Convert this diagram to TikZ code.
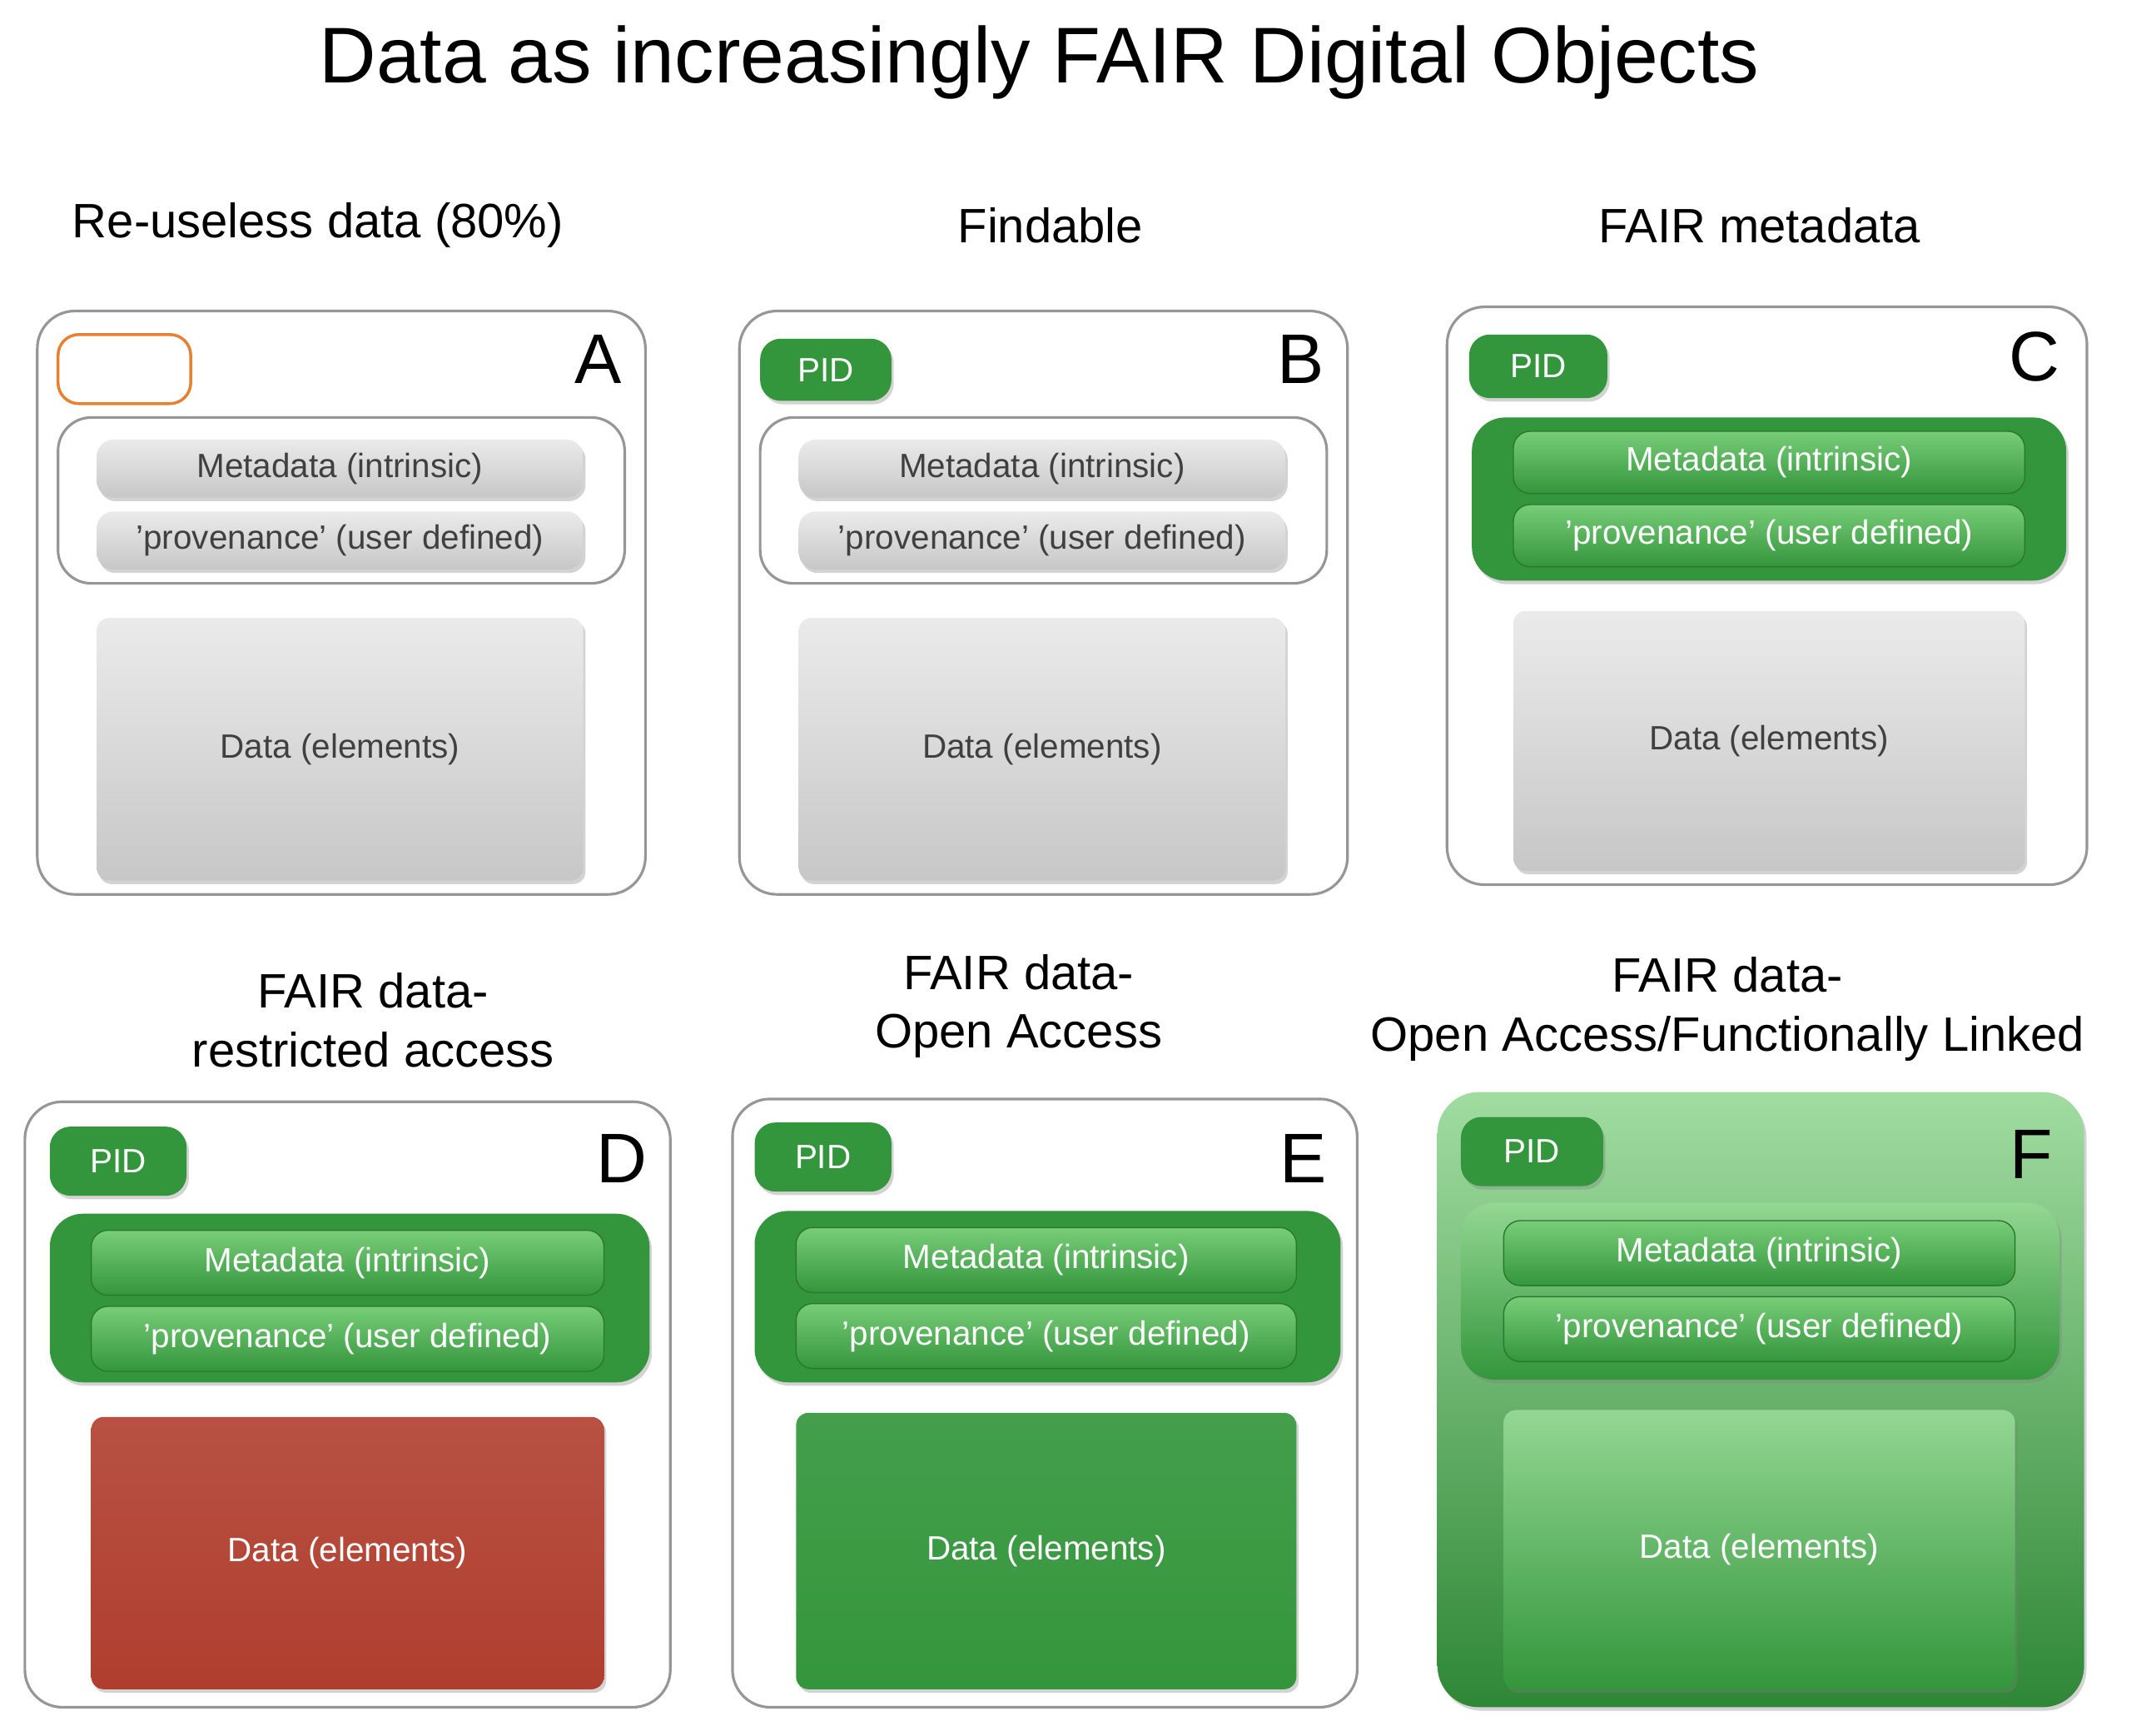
\documentclass[tikz,border=0pt]{standalone}
\usepackage{fontspec}
\setmainfont{Liberation Sans}
\usetikzlibrary{positioning,shadows,fit}
\definecolor{fgreen}{RGB}{52,150,60}
\definecolor{fgreenlt}{RGB}{120,205,120}
\definecolor{fred}{RGB}{176,62,46}
\definecolor{fgray}{RGB}{150,150,150}
\definecolor{forange}{RGB}{232,128,50}

\begin{document}
\begin{tikzpicture}[x=0.0166cm,y=-0.0166cm,
every node/.style={inner sep=0pt},
shad/.style={drop shadow={shadow xshift=0.8pt, shadow yshift=-1.2pt, opacity=0.35}},
panel/.style={draw=fgray, line width=0.9pt, rounded corners=4.5mm},
group/.style={draw=fgray, line width=0.9pt, rounded corners=4mm},
ggroup/.style={fill=fgreen, rounded corners=4mm, shad},
btext/.style={font=\fontsize{11.5}{13}\selectfont, text=black!75},
wtext/.style={font=\fontsize{11.5}{13}\selectfont, text=white},
bar/.style={rounded corners=2mm, top color=white!92!black, bottom color=black!22, shad},
gbar/.style={rounded corners=2mm, top color=fgreenlt, bottom color=fgreen, draw=fgreen!80!black},
data/.style={rounded corners=1.5mm, top color=white!92!black, bottom color=black!22, shad},
pid/.style={fill=fgreen, rounded corners=2.5mm, shad},
letter/.style={font=\fontsize{24}{26}\selectfont},
head/.style={font=\fontsize{16.5}{20}\selectfont, align=center}
]
\useasboundingbox (0,0) rectangle (1560,1248);
\node[font=\fontsize{27}{30}\selectfont] (title) at (752,45) {Data as increasingly FAIR Digital Objects};

% A
\node[head] (hA) at (230,163) {Re-useless data (80\%)};
\node[panel, fit={(27,225) (467,647)}] (pA) {};
\node[draw=forange, line width=1pt, rounded corners=2.5mm, fit={(42,242) (138,292)}] (oA) {};
\node[letter] (lA) at (433,260) {A};
\node[group, fit={(42,302) (452,422)}] (gA) {};
\node[bar, fit={(70,318) (422,360)}, label={[btext]center:Metadata (intrinsic)}] (mA) {};
\node[bar, fit={(70,370) (422,412)}, label={[btext]center:'provenance' (user defined)}] (vA) {};
\node[data, fit={(70,447) (422,637)}, label={[btext]center:Data (elements)}] (dA) {};

% B
\node[head] (hB) at (760,163) {Findable};
\node[panel, fit={(535,225) (975,647)}] (pB) {};
\node[pid, fit={(550,245) (645,290)}, label={[wtext]center:PID}] (iB) {};
\node[letter] (lB) at (941,260) {B};
\node[group, fit={(550,302) (960,422)}] (gB) {};
\node[bar, fit={(578,318) (930,360)}, label={[btext]center:Metadata (intrinsic)}] (mB) {};
\node[bar, fit={(578,370) (930,412)}, label={[btext]center:'provenance' (user defined)}] (vB) {};
\node[data, fit={(578,447) (930,637)}, label={[btext]center:Data (elements)}] (dB) {};

% C
\node[head] (hC) at (1273,163) {FAIR metadata};
\node[panel, fit={(1047,222) (1510,640)}] (pC) {};
\node[pid, fit={(1063,242) (1163,288)}, label={[wtext]center:PID}] (iC) {};
\node[letter] (lC) at (1472,258) {C};
\node[ggroup, fit={(1065,302) (1495,420)}] (gC) {};
\node[gbar, fit={(1095,312) (1465,357)}, label={[wtext]center:Metadata (intrinsic)}] (mC) {};
\node[gbar, fit={(1095,365) (1465,410)}, label={[wtext]center:'provenance' (user defined)}] (vC) {};
\node[data, fit={(1095,442) (1465,630)}, label={[btext]center:Data (elements)}] (dC) {};

% D
\node[head] (hD) at (270,738) {FAIR data-\\restricted access};
\node[panel, fit={(18,797) (485,1235)}] (pD) {};
\node[pid, fit={(36,815) (135,865)}, label={[wtext]center:PID}] (iD) {};
\node[letter] (lD) at (450,838) {D};
\node[ggroup, fit={(36,878) (470,1000)}] (gD) {};
\node[gbar, fit={(66,890) (437,937)}, label={[wtext]center:Metadata (intrinsic)}] (mD) {};
\node[gbar, fit={(66,945) (437,992)}, label={[wtext]center:'provenance' (user defined)}] (vD) {};
\node[data, top color=fred!90!white, bottom color=fred, fit={(66,1025) (437,1222)}, label={[wtext]center:Data (elements)}] (dD) {};

% E
\node[head] (hE) at (737,728) {FAIR data-\\Open Access};
\node[panel, fit={(530,795) (982,1235)}] (pE) {};
\node[pid, fit={(546,812) (645,862)}, label={[wtext]center:PID}] (iE) {};
\node[letter] (lE) at (943,838) {E};
\node[ggroup, fit={(546,876) (970,1000)}] (gE) {};
\node[gbar, fit={(576,888) (938,935)}, label={[wtext]center:Metadata (intrinsic)}] (mE) {};
\node[gbar, fit={(576,943) (938,990)}, label={[wtext]center:'provenance' (user defined)}] (vE) {};
\node[data, top color=fgreen!92!white, bottom color=fgreen, fit={(576,1022) (938,1222)}, label={[wtext]center:Data (elements)}] (dE) {};

% F
\node[head] (hF) at (1250,730) {FAIR data-\\Open Access/Functionally Linked};
\node[rounded corners=5mm, top color=fgreenlt!70!white, bottom color=fgreen!90!black,
      shad, fit={(1040,790) (1508,1235)}] (pF) {};
\node[pid, fit={(1057,808) (1160,858)}, label={[wtext]center:PID}] (iF) {};
\node[letter] (lF) at (1470,835) {F};
\node[rounded corners=4mm, top color=fgreenlt!80!white, bottom color=fgreen, shad,
      fit={(1057,870) (1490,998)}] (gF) {};
\node[gbar, fit={(1088,883) (1458,930)}, label={[wtext]center:Metadata (intrinsic)}] (mF) {};
\node[gbar, fit={(1088,938) (1458,985)}, label={[wtext]center:'provenance' (user defined)}] (vF) {};
\node[data, top color=fgreenlt!80!white, bottom color=fgreen, fit={(1088,1020) (1458,1222)}, label={[wtext]center:Data (elements)}] (dF) {};
\end{tikzpicture}
\end{document}
